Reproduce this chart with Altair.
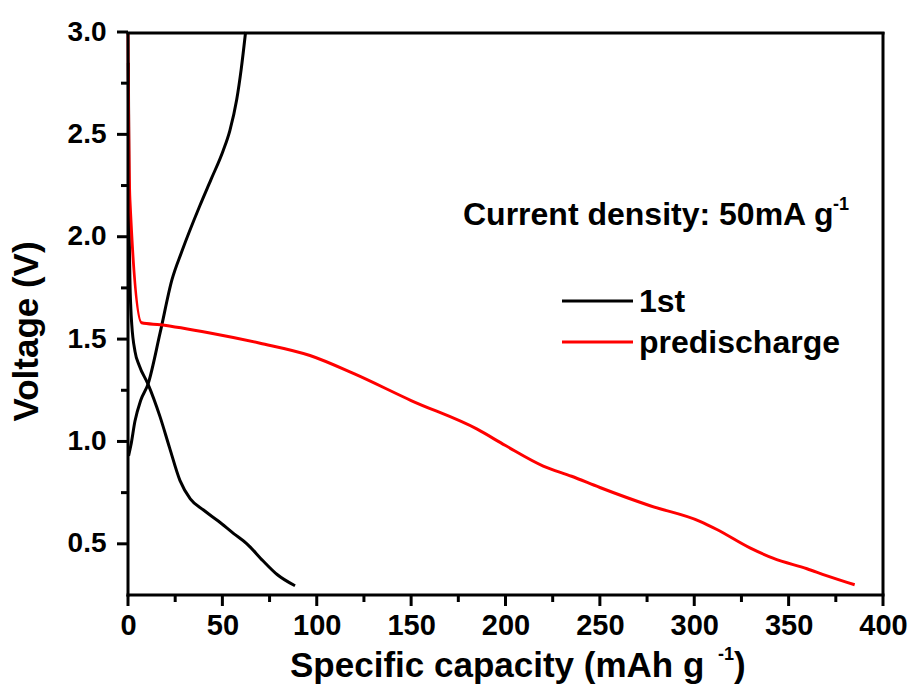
import altair as alt
import pandas as pd

# ---- data ----
first_dis_cap = [0.2, 0.5, 1.0, 1.5, 2.0, 3.7, 6.0, 10.6, 17, 22, 27.5, 33, 40, 48, 56, 63, 71.5, 79, 88.5]
first_dis_v = [2.85, 2.2, 1.8, 1.65, 1.57, 1.44, 1.37, 1.28, 1.12, 0.97, 0.81, 0.72, 0.665, 0.61, 0.55, 0.5, 0.417, 0.35, 0.295]

first_chg_cap = [0.3, 1.5, 3.7, 6.7, 10.6, 17, 23.3, 28.6, 38, 44, 50.4, 54, 57.6, 60, 62.3]
first_chg_v = [0.93, 0.98, 1.1, 1.2, 1.28, 1.53, 1.79, 1.93, 2.15, 2.28, 2.42, 2.52, 2.67, 2.82, 3.0]

pre_cap = [0, 0.3, 1, 7.2, 17, 43.4, 70, 96.4, 120, 150, 185, 200, 220, 235, 250, 276.6, 303, 312, 329.5, 341.7, 359.7, 370, 385]
pre_v = [3.0, 2.6, 2.18, 1.58, 1.57, 1.53, 1.48, 1.42, 1.33, 1.2, 1.06, 0.98, 0.88, 0.83, 0.775, 0.686, 0.61, 0.57, 0.48, 0.43, 0.378, 0.345, 0.30]

series_names = ["1st", "predischarge"]
series_colors = ["#000000", "#ff0000"]

x_major = [0, 50, 100, 150, 200, 250, 300, 350, 400]
x_minor = [25, 75, 125, 175, 225, 275, 325, 375]
y_major = [0.5, 1.0, 1.5, 2.0, 2.5, 3.0]
y_minor = [0.75, 1.25, 1.75, 2.25, 2.75]

W, H = 755, 563      # frame size
M = 12               # band inside the view reserved for outward ticks
FONT = "Liberation Sans"
BLACK = "#000000"

x_scale = alt.Scale(domain=[0, 400], range=[M, M + W], nice=False)
y_scale = alt.Scale(domain=[0.25, 3.0], range=[H, 0], nice=False, zero=False)

x_enc = alt.X("cap:Q", scale=x_scale,
              axis=alt.Axis(values=x_major, title=None, ticks=False, tickSize=0, domain=False,
                            labelFont=FONT, labelFontSize=29, labelFontWeight="bold", labelColor=BLACK,
                            labelPadding=4, grid=False, labelFlush=False))
y_enc = alt.Y("v:Q", scale=y_scale,
              axis=alt.Axis(values=y_major, format=".1f", ticks=False, tickSize=0, domain=False,
                            labelFont=FONT, labelFontSize=28, labelFontWeight="bold", labelColor=BLACK,
                            labelPadding=10, grid=False, labelFlush=False,
                            title="Voltage (V)", titleFont=FONT, titleFontSize=35, titleFontWeight="bold",
                            titleColor=BLACK, titleBaseline="alphabetic", titleX=-79, titleY=299))

layers = []
# one line layer per curve
for name, xs, ys in [("1st", first_dis_cap, first_dis_v),
                     ("1st", first_chg_cap, first_chg_v),
                     ("predischarge", pre_cap, pre_v)]:
    cdf = pd.DataFrame({"cap": xs, "v": ys})
    col = series_colors[series_names.index(name)]
    layers.append(alt.Chart(cdf).mark_line(strokeWidth=3, interpolate="monotone", color=col)
                  .encode(x=x_enc, y=y_enc))

# ticks drawn from the tick lists through the scales (outward)
layers.append(alt.Chart(pd.DataFrame({"cap": x_major})).mark_rule(strokeWidth=3, color=BLACK).encode(
    x=alt.X("cap:Q", scale=x_scale), y=alt.value(H), y2=alt.value(H + 11)))
layers.append(alt.Chart(pd.DataFrame({"cap": x_minor})).mark_rule(strokeWidth=3, color=BLACK).encode(
    x=alt.X("cap:Q", scale=x_scale), y=alt.value(H), y2=alt.value(H + 7)))
layers.append(alt.Chart(pd.DataFrame({"v": y_major})).mark_rule(strokeWidth=3, color=BLACK).encode(
    y=alt.Y("v:Q", scale=y_scale), x=alt.value(M), x2=alt.value(M - 11)))
layers.append(alt.Chart(pd.DataFrame({"v": y_minor})).mark_rule(strokeWidth=3, color=BLACK).encode(
    y=alt.Y("v:Q", scale=y_scale), x=alt.value(M), x2=alt.value(M - 7)))

# frame (left, bottom, top, right)
frame = pd.DataFrame({"k": ["frame"]})
layers.append(alt.Chart(frame).mark_rule(strokeWidth=3, color=BLACK).encode(
    x=alt.value(M), y=alt.value(0), y2=alt.value(H + 1.5)))
layers.append(alt.Chart(frame).mark_rule(strokeWidth=3, color=BLACK).encode(
    x=alt.value(M - 1.5), x2=alt.value(M + W + 1.5), y=alt.value(H)))
layers.append(alt.Chart(frame).mark_rule(strokeWidth=3, color=BLACK).encode(
    x=alt.value(M - 1.5), x2=alt.value(M + W + 1.5), y=alt.value(1)))
layers.append(alt.Chart(frame).mark_rule(strokeWidth=3, color=BLACK).encode(
    x=alt.value(M + W), y=alt.value(0), y2=alt.value(H)))

# custom legend
legend_y = [269, 310]
for name, col, ly in zip(series_names, series_colors, legend_y):
    ldf = pd.DataFrame({"series": [name]})
    layers.append(alt.Chart(ldf).mark_rule(strokeWidth=3, color=col).encode(
        x=alt.value(M + 434), x2=alt.value(M + 505), y=alt.value(ly)))
    layers.append(alt.Chart(ldf).mark_text(align="left", baseline="middle", font=FONT,
                                           fontSize=32, fontWeight="bold", color=BLACK).encode(
        x=alt.value(M + 511), y=alt.value(ly + 1), text="series:N"))

# annotation
ann = pd.DataFrame({"t": ["Current density: 50mA g"], "s": ["-1"]})
layers.append(alt.Chart(ann).mark_text(align="left", baseline="alphabetic", font=FONT, fontSize=32,
                                       fontWeight="bold", color=BLACK).encode(
    x=alt.value(M + 335), y=alt.value(193), text="t:N"))
layers.append(alt.Chart(ann).mark_text(align="left", baseline="alphabetic", font=FONT, fontSize=18,
                                       fontWeight="bold", color=BLACK).encode(
    x=alt.value(M + 705), y=alt.value(178), text="s:N"))

# x-axis title with superscript
xt = pd.DataFrame({"a": ["Specific capacity (mAh g"], "b": ["-1"], "c": [")"]})
layers.append(alt.Chart(xt).mark_text(align="left", baseline="alphabetic", font=FONT, fontSize=35,
                                      fontWeight="bold", color=BLACK).encode(
    x=alt.value(M + 162), y=alt.value(645), text="a:N"))
layers.append(alt.Chart(xt).mark_text(align="left", baseline="alphabetic", font=FONT, fontSize=18,
                                      fontWeight="bold", color=BLACK).encode(
    x=alt.value(M + 590), y=alt.value(628), text="b:N"))
layers.append(alt.Chart(xt).mark_text(align="left", baseline="alphabetic", font=FONT, fontSize=35,
                                      fontWeight="bold", color=BLACK).encode(
    x=alt.value(M + 606), y=alt.value(645), text="c:N"))

chart = alt.layer(*layers).properties(
    width=W + M, height=H + M, autosize="none",
    padding={"left": 128 - M, "top": 32, "right": 33, "bottom": 94 - M},
).configure_view(stroke="transparent")

chart.save("out.html", embed_options={"renderer": "svg", "actions": False})
